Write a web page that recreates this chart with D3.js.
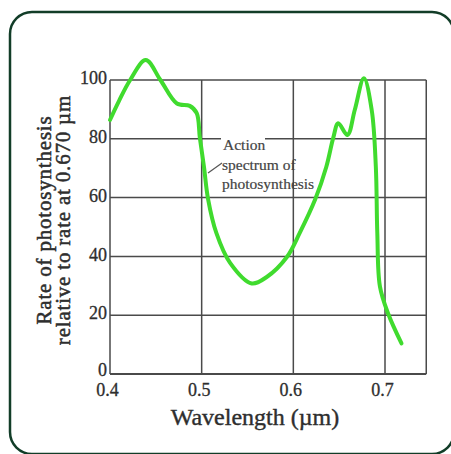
<!DOCTYPE html>
<html>
<head>
<meta charset="utf-8">
<script src="https://cdn.jsdelivr.net/npm/d3@7"></script>
<style>
  body { margin: 0; background: #fff; }
  svg { display: block; }
</style>
</head>
<body>
<script>
// action spectrum
var wavelength = [0.400, 0.410, 0.422, 0.439, 0.455, 0.473, 0.487, 0.4946, 0.498, 0.5025, 0.507, 0.516, 0.531, 0.5546, 0.571, 0.593, 0.607, 0.624, 0.636, 0.6436, 0.649, 0.659, 0.667, 0.677, 0.6855, 0.690, 0.6916, 0.6945, 0.7036, 0.718];
var rate       = [86.4, 93, 100, 106.8, 100, 92, 91.2, 88.7, 80.4, 70.5, 59.5, 48, 37.8, 30.8, 33, 39.8, 48, 59.5, 70.5, 80.4, 85.3, 81.3, 89.8, 100.6, 89.8, 70.5, 48, 29.7, 20.4, 10.4];

var xTicks = [0.4, 0.5, 0.6, 0.7];
var yTicks = [0, 20, 40, 60, 80, 100];

var width = 451, height = 454;
var serif = "Liberation Serif, serif";

var svg = d3.select("body")
    .append("svg")
    .attr("width", width)
    .attr("height", height);

// rounded green frame
svg.append("rect")
    .attr("x", 10)
    .attr("y", 12)
    .attr("width", 444)
    .attr("height", 442)
    .attr("rx", 22)
    .attr("fill", "none")
    .attr("stroke", "#123d28")
    .attr("stroke-width", 2.5);

var x = d3.scaleLinear().domain([0.4, 0.7]).range([110, 385]);
var y = d3.scaleLinear().domain([0, 100]).range([374, 80]);

var xMax = 0.745;

// grid
svg.append("g")
  .selectAll("line")
  .data(yTicks)
  .enter().append("line")
    .attr("x1", x(0.4))
    .attr("x2", x(xMax))
    .attr("y1", function(d) { return y(d); })
    .attr("y2", function(d) { return y(d); })
    .attr("stroke", "#4a4a4a")
    .attr("stroke-width", function(d) { return d == 0 ? 2 : 1.5; });

svg.append("g")
  .selectAll("line")
  .data(xTicks.concat([xMax]))
  .enter().append("line")
    .attr("x1", function(d) { return x(d); })
    .attr("x2", function(d) { return x(d); })
    .attr("y1", y(0))
    .attr("y2", y(100))
    .attr("stroke", "#4a4a4a")
    .attr("stroke-width", 1.5);

// axes (labels only, lines come from grid)
var xAxis = svg.append("g")
    .attr("transform", "translate(-3," + y(0) + ")")
    .call(d3.axisBottom(x).tickValues(xTicks).tickSize(0).tickPadding(9).tickFormat(d3.format(".1f")));
var yAxis = svg.append("g")
    .attr("transform", "translate(" + x(0.4) + ",-2)")
    .call(d3.axisLeft(y).tickValues(yTicks).tickSize(0).tickPadding(3));
yAxis.selectAll(".tick").filter(function(d) { return d == 0; })
    .attr("transform", "translate(0," + (y(0) - 2) + ")");

[xAxis, yAxis].forEach(function(a) {
  a.select(".domain").remove();
  a.selectAll("text")
    .attr("font-family", serif)
    .attr("font-size", 18)
    .attr("fill", "#2e2e2e")
    .attr("stroke", "#2e2e2e")
    .attr("stroke-width", 0.3);
});

// white gap behind "Action" on the 80 gridline
svg.append("rect")
    .attr("x", 221)
    .attr("y", y(80) - 3)
    .attr("width", 44)
    .attr("height", 6)
    .attr("fill", "#fff");

// curve
var line = d3.line()
    .x(function(d, i) { return x(wavelength[i]); })
    .y(function(d) { return y(d); })
    .curve(d3.curveCatmullRom.alpha(0.5));

svg.append("path")
    .datum(rate)
    .attr("d", line)
    .attr("fill", "none")
    .attr("stroke", "#40db2e")
    .attr("stroke-width", 4)
    .attr("stroke-linecap", "round")
    .attr("stroke-linejoin", "round");

// annotation
svg.append("line")
    .attr("x1", 208)
    .attr("y1", 173)
    .attr("x2", 222)
    .attr("y2", 163)
    .attr("stroke", "#555")
    .attr("stroke-width", 1.2);

var notes = ["Action", "spectrum of", "photosynthesis"];
svg.append("g")
  .selectAll("text")
  .data(notes)
  .enter().append("text")
    .attr("x", function(d, i) { return i == 0 ? 223 : 222; })
    .attr("y", function(d, i) { return 150 + i * 19.5; })
    .attr("font-family", serif)
    .attr("font-size", 15.5)
    .attr("fill", "#444")
    .attr("stroke", "#444")
    .attr("stroke-width", 0.2)
    .text(function(d) { return d; });

// titles
svg.append("text")
    .attr("x", 255)
    .attr("y", 425)
    .attr("text-anchor", "middle")
    .attr("font-family", serif)
    .attr("font-size", 24)
    .attr("fill", "#2e2e2e")
    .attr("stroke", "#2e2e2e")
    .attr("stroke-width", 0.4)
    .text("Wavelength (\u00b5m)");

var yTitle = ["Rate of photosynthesis", "relative to rate at 0.670 \u00b5m"];
svg.append("g")
  .selectAll("text")
  .data(yTitle)
  .enter().append("text")
    .attr("transform", function(d, i) { return "translate(" + (51 + i * 19) + ",220) rotate(-90)"; })
    .attr("text-anchor", "middle")
    .attr("font-family", serif)
    .attr("font-size", 21)
    .attr("letter-spacing", 0.8)
    .attr("fill", "#2e2e2e")
    .attr("stroke", "#2e2e2e")
    .attr("stroke-width", 0.5)
    .text(function(d) { return d; });
</script>
</body>
</html>
